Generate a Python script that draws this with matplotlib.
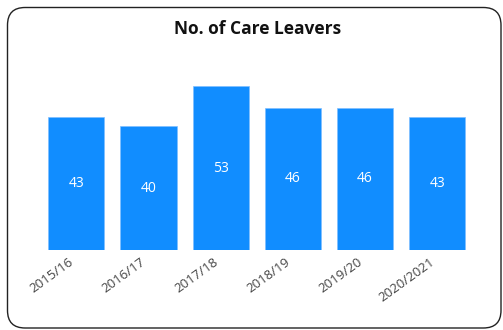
import matplotlib
matplotlib.use("Agg")
import matplotlib.pyplot as plt
from matplotlib.patches import FancyBboxPatch
from matplotlib.transforms import ScaledTranslation

categories = ["2015/16", "2016/17", "2017/18", "2018/19", "2019/20", "2020/2021"]
values = [43, 40, 53, 46, 46, 43]

W, H = 503, 330
fig = plt.figure(figsize=(W/100, H/100), dpi=100)
plt.rcParams['font.family'] = ['Open Sans', 'DejaVu Sans']

# rounded border
box = FancyBboxPatch((7.5/W, 2/H), (493.5/W), (320.5/H),
                     boxstyle="round,pad=0,rounding_size=0.035",
                     transform=fig.transFigure, fill=False, edgecolor='#222222',
                     linewidth=1.0, mutation_aspect=W/H)
fig.add_artist(box)

ax = fig.add_axes([40.2/W, (H-249.7)/H, (473.4-40.2)/W, (249.7-60)/H])
x = list(range(len(categories)))
bars = ax.bar(x, values, width=0.776, color='#118dff', edgecolor='#7fbfff', linewidth=0.5)
ax.set_xlim(-0.5, len(categories)-0.5)
ax.set_ylim(0, 189.7/3.08)
for xi, v in zip(x, values):
    ax.text(xi, v/2, str(v), ha='center', va='center', color='white', fontsize=10)
ax.set_xticks(x)
ax.set_xticklabels(categories, rotation=36, ha='right', rotation_mode='anchor',
                   color='#444444', fontsize=9.5)
ax.tick_params(axis='x', length=0, pad=4)
offset = ScaledTranslation(-8/100, 0, fig.dpi_scale_trans)
for lbl in ax.get_xticklabels():
    lbl.set_transform(lbl.get_transform() + offset)
ax.set_yticks([])
for s in ax.spines.values():
    s.set_visible(False)

fig.text(257.5/W, 1-29/H, "No. of Care Leavers", ha='center', va='center',
         fontsize=12.5, fontweight='bold', color='#111111')

fig.savefig("out.png", dpi=100)
